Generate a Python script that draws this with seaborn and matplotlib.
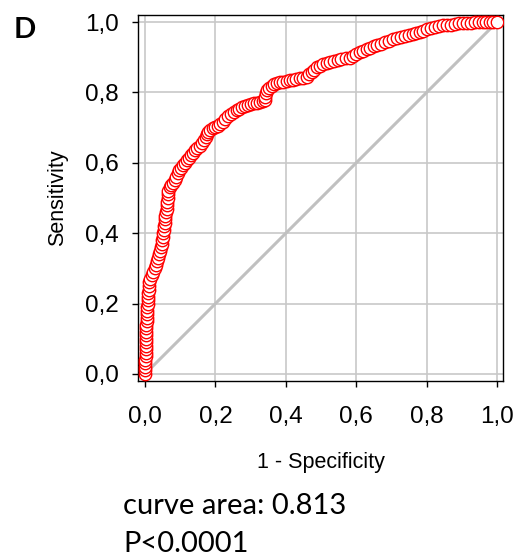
import matplotlib
matplotlib.use("Agg")
import matplotlib.pyplot as plt
import seaborn as sns

# ROC curve points (1 - specificity, sensitivity)
fpr = [
    0.000, 0.000, 0.001, 0.001, 0.001, 0.002, 0.002, 0.002, 0.003, 0.003, 0.003,
    0.003, 0.004, 0.004, 0.004, 0.005, 0.005, 0.005, 0.006, 0.006, 0.007,
    0.008, 0.008, 0.009, 0.010, 0.011, 0.012, 0.015,
    0.019, 0.023, 0.027, 0.031, 0.035, 0.038, 0.040, 0.043, 0.045, 0.047, 0.048, 0.050, 0.052,
    0.053, 0.054, 0.056, 0.057, 0.058, 0.060, 0.061, 0.062, 0.063, 0.064, 0.065, 0.066,
    0.070, 0.075, 0.080, 0.085, 0.089, 0.093, 0.097, 0.103, 0.109, 0.114, 0.120, 0.126,
    0.131, 0.137, 0.143, 0.149, 0.155, 0.162,
    0.167, 0.172, 0.176, 0.180, 0.185, 0.192, 0.199, 0.207, 0.214, 0.222, 0.228, 0.236,
    0.244, 0.252, 0.260,
    0.268, 0.276, 0.284, 0.292, 0.300, 0.309, 0.318, 0.326, 0.334, 0.340, 0.342, 0.344,
    0.346, 0.353, 0.360, 0.367, 0.375, 0.384, 0.393, 0.402, 0.411, 0.420,
    0.430, 0.440, 0.450, 0.460, 0.467, 0.474, 0.481, 0.488, 0.497, 0.507, 0.516, 0.526,
    0.536, 0.547, 0.558, 0.570, 0.582, 0.591, 0.600, 0.610,
    0.620, 0.630, 0.640, 0.650, 0.660, 0.671, 0.682, 0.694, 0.705, 0.716, 0.727, 0.738,
    0.749, 0.760, 0.770, 0.780, 0.791, 0.802, 0.813, 0.824, 0.836, 0.847, 0.858, 0.870,
    0.881, 0.892, 0.904, 0.915, 0.927, 0.938, 0.949, 0.960, 0.970, 0.980, 0.990, 1.000,
]
tpr = [
    0.000, 0.010, 0.020, 0.030, 0.040, 0.050, 0.060, 0.070, 0.080, 0.090, 0.100,
    0.110, 0.120, 0.130, 0.140, 0.150, 0.160, 0.170, 0.180, 0.190, 0.200,
    0.210, 0.220, 0.230, 0.240, 0.250, 0.260, 0.270,
    0.280, 0.290, 0.300, 0.310, 0.320, 0.330, 0.340, 0.350, 0.360, 0.370, 0.380, 0.390, 0.400,
    0.410, 0.420, 0.430, 0.440, 0.450, 0.460, 0.470, 0.480, 0.490, 0.500, 0.510, 0.520,
    0.530, 0.537, 0.544, 0.550, 0.560, 0.570, 0.580, 0.586, 0.593, 0.600, 0.607, 0.614,
    0.621, 0.628, 0.635, 0.642, 0.649, 0.656,
    0.665, 0.674, 0.683, 0.688, 0.693, 0.698, 0.702, 0.706, 0.711, 0.716, 0.724, 0.732,
    0.740, 0.745, 0.750,
    0.754, 0.758, 0.762, 0.765, 0.767, 0.769, 0.770, 0.772, 0.775, 0.778, 0.788, 0.798,
    0.807, 0.813, 0.818, 0.823, 0.827, 0.829, 0.831, 0.832, 0.834, 0.835,
    0.837, 0.840, 0.842, 0.844, 0.851, 0.858, 0.865, 0.872, 0.876, 0.880, 0.883, 0.886,
    0.889, 0.892, 0.895, 0.897, 0.898, 0.903, 0.909, 0.915,
    0.919, 0.923, 0.927, 0.931, 0.935, 0.939, 0.943, 0.947, 0.951, 0.955, 0.958, 0.961,
    0.964, 0.967, 0.970, 0.972, 0.975, 0.979, 0.982, 0.985, 0.988, 0.991, 0.992, 0.993,
    0.994, 0.996, 0.997, 0.998, 0.998, 0.999, 0.999, 1.000, 1.000, 1.000, 1.000, 1.000,
]
ref_x = [0.0, 1.0]
ref_y = [0.0, 1.0]

tick_values = [0.0, 0.2, 0.4, 0.6, 0.8, 1.0]
tick_labels = ["0,0", "0,2", "0,4", "0,6", "0,8", "1,0"]

panel_letter = "D"
auc_text = "curve area: 0.813"
p_text = "P<0.0001"

sns.set_style("white")
plt.rcParams["font.family"] = ["Liberation Sans", "DejaVu Sans"]
plt.rcParams["text.color"] = "black"
plt.rcParams["axes.labelcolor"] = "black"
plt.rcParams["xtick.color"] = "black"
plt.rcParams["ytick.color"] = "black"

fig = plt.figure(figsize=(5.22, 5.58), dpi=100)
ax = fig.add_axes([0.2644, 0.3172, 0.6992, 0.6559])

# reference diagonal
sns.lineplot(x=ref_x, y=ref_y, ax=ax, color="#c0c0c0", linewidth=2.2, zorder=2)

# ROC points as open circles
sns.scatterplot(
    x=fpr, y=tpr, ax=ax, marker="o", s=80,
    facecolor="white", edgecolor="#ff0000", linewidth=1.0, zorder=3,
)

ax.set_xlim(-0.02, 1.017)
ax.set_ylim(-0.02, 1.02)
ax.set_xticks(tick_values)
ax.set_xticklabels(tick_labels)
ax.set_yticks(tick_values)
ax.set_yticklabels(tick_labels)
ax.grid(True, color="#c8c8c8", linewidth=1.2, zorder=0)
ax.set_axisbelow(True)

for sp in ax.spines.values():
    sp.set_visible(True)
    sp.set_color("black")
    sp.set_linewidth(1.0)

ax.tick_params(axis="both", direction="out", length=4, width=1.0, color="black",
               labelcolor="black", labelsize=17.5, bottom=True, left=True)
ax.tick_params(axis="x", pad=14)
ax.tick_params(axis="y", pad=10)

ax.set_xlabel("1 - Specificity", fontsize=15.5, labelpad=17, color="black")
ax.set_ylabel("Sensitivity", fontsize=15.5, labelpad=12, color="black")

fig.text(0.0268, 0.9319, panel_letter, family="Lato", fontweight="bold",
         fontsize=21, va="baseline", ha="left", color="black")
fig.text(0.2356, 0.0789, auc_text, family="Lato", fontsize=21,
         va="baseline", ha="left", color="black")
fig.text(0.2356, 0.0108, p_text, family="Lato", fontsize=21,
         va="baseline", ha="left", color="black")

fig.savefig("out.png", dpi=100)
plt.close(fig)
